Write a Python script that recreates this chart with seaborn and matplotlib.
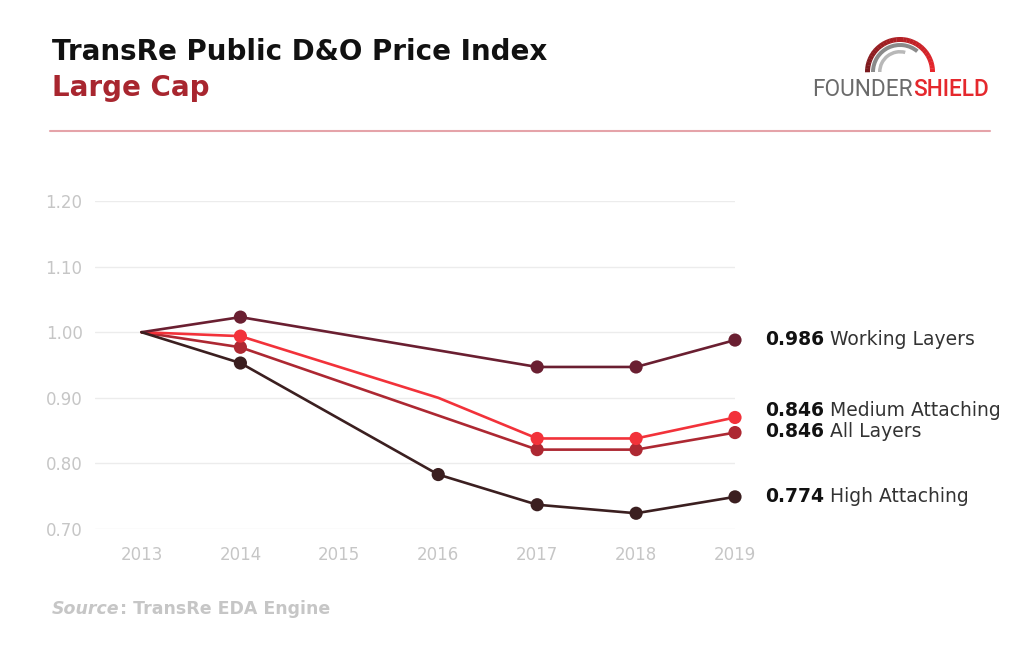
import numpy as np
import pandas as pd
import matplotlib
matplotlib.use('Agg')
import matplotlib.pyplot as plt
import seaborn as sns
from matplotlib.patches import Wedge

# data
years = [2013, 2014, 2015, 2016, 2017, 2018, 2019]
working = [1.000, 1.023, None, None, 0.947, 0.947, 0.988]
medium = [1.000, 0.994, None, 0.900, 0.838, 0.838, 0.870]
all_layers = [1.000, 0.977, None, None, 0.821, 0.821, 0.847]
high = [1.000, 0.953, None, 0.783, 0.737, 0.724, 0.749]
# which points carry a dot
working_dots = [0, 1, 0, 0, 1, 1, 1]
medium_dots = [0, 1, 0, 0, 1, 1, 1]
all_dots = [0, 1, 0, 0, 1, 1, 1]
high_dots = [0, 1, 0, 1, 1, 1, 1]

end_values = ['0.986', '0.846', '0.846', '0.774']
end_names = ['Working Layers', 'Medium Attaching', 'All Layers', 'High Attaching']
end_y = [0.989, 0.880, 0.848, 0.750]

series = {
    'Working Layers': (working, working_dots, '#6a1f31'),
    'Medium Attaching': (medium, medium_dots, '#f2323a'),
    'All Layers': (all_layers, all_dots, '#ad2832'),
    'High Attaching': (high, high_dots, '#3b1f20'),
}

rows = []
for name, (vals, dots, _) in series.items():
    for yr, v, d in zip(years, vals, dots):
        if v is not None:
            rows.append({'year': yr, 'index': v, 'series': name, 'dot': bool(d)})
df = pd.DataFrame(rows)

sns.set_theme(style='white')
plt.rcParams['font.family'] = ['DejaVu Sans']

fig = plt.figure(figsize=(10.24, 6.55), dpi=100)
ax = fig.add_axes([95 / 1024, 1 - 529 / 655, 640 / 1024, 328 / 655])

palette = {k: v[2] for k, v in series.items()}
order = ['All Layers', 'Medium Attaching', 'Working Layers', 'High Attaching']
for name in order:
    sub = df[df['series'] == name]
    sns.lineplot(data=sub, x='year', y='index', color=palette[name], lw=1.9,
                 ax=ax, clip_on=False, legend=False)
    dots = sub[sub['dot']]
    sns.scatterplot(data=dots, x='year', y='index', color=palette[name], s=90,
                    edgecolor='none', ax=ax, clip_on=False, legend=False, zorder=5)

ax.set_xlim(2012.53, 2018.97)
ax.set_ylim(0.70, 1.20)
ax.set_xticks(years)
yt = [0.70, 0.80, 0.90, 1.00, 1.10, 1.20]
ax.set_yticks(yt)
ax.set_yticklabels(['%.2f' % t for t in yt])
ax.grid(axis='y', color='#ececec', lw=1)
ax.grid(axis='x', visible=False)
for s in ax.spines.values():
    s.set_visible(False)
ax.tick_params(axis='both', length=0, labelsize=12, labelcolor='#c6c6c6')
ax.tick_params(axis='x', pad=12)
ax.tick_params(axis='y', pad=9)
ax.set_xlabel('')
ax.set_ylabel('')

for v, n, y in zip(end_values, end_names, end_y):
    t = ax.text(2019.3, y, v, fontsize=13.5, fontweight='bold', color='#111111',
                va='center', ha='left')
    ax.annotate(' ' + n, xy=(1, 0), xycoords=t, fontsize=13.5, color='#333333',
                va='bottom', ha='left')

# header
fig.text(52 / 1024, 1 - 60 / 655, 'TransRe Public D&O Price Index', fontsize=20,
         fontweight='bold', color='#111111', va='baseline', ha='left')
fig.text(52 / 1024, 1 - 96 / 655, 'Large Cap', fontsize=20, fontweight='bold',
         color='#a8262f', va='baseline', ha='left')
fig.add_artist(plt.Line2D([50 / 1024, 990 / 1024], [1 - 131 / 655] * 2,
                          color='#e5a3a9', lw=1.5))

# source
src = fig.text(52 / 1024, 1 - 614 / 655, 'Source', fontsize=12.5, fontweight='bold',
               style='italic', color='#c6c6c6', va='baseline', ha='left')
fig.canvas.draw()
bb = src.get_window_extent()
fig.text(bb.x1 / 1024, 1 - 614 / 655, ': TransRe EDA Engine', fontsize=12.5,
         fontweight='bold', color='#c6c6c6', va='baseline', ha='left')

# logo
lax = fig.add_axes([855 / 1024, 1 - 76 / 655, 90 / 1024, 45 / 655])
lax.set_xlim(-45, 45)
lax.set_ylim(-4, 41)
lax.set_aspect('equal')
lax.axis('off')
n = 30
reds = sns.blend_palette(['#7a1a1e', '#e8262c'], n)
for i in range(n):
    a0 = 180 - 180 * (i + 1) / n
    a1 = 180 - 180 * i / n
    lax.add_patch(Wedge((0, 0), 35, a0, a1 + 0.5, width=5, color=reds[i], lw=0))
lax.add_patch(Wedge((0, 0), 29, 50, 180, width=4, color='#8a8a8a', lw=0))
lax.add_patch(Wedge((0, 0), 22, 75, 180, width=3.5, color='#b8b8b8', lw=0))

ft = fig.text(812 / 1024, 1 - 96 / 655, 'FOUNDER', fontsize=16.3, color='#6b6b6b',
              va='baseline', ha='left', family='Roboto')
fig.canvas.draw()
fb = ft.get_window_extent()
fig.text(fb.x1 / 1024, 1 - 96 / 655, 'SHIELD', fontsize=16.3, color='#e5282d',
         fontweight='medium', va='baseline', ha='left', family='Roboto')

fig.savefig('out.png', dpi=100, facecolor='white')
